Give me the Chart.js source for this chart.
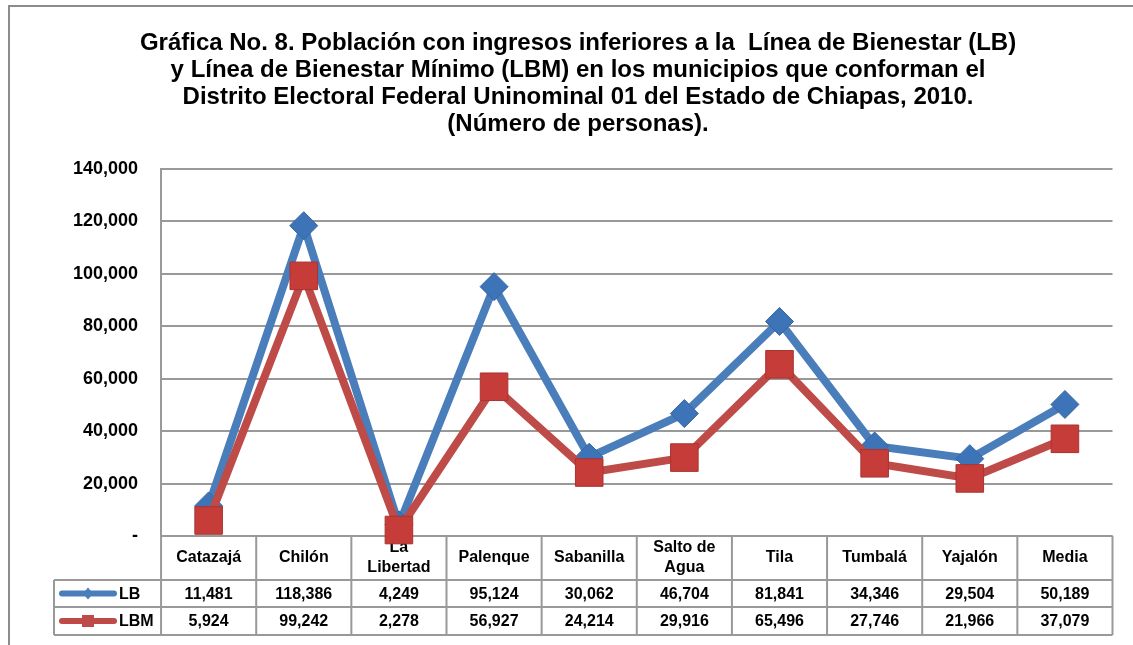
<!DOCTYPE html>
<html>
<head>
<meta charset="utf-8">
<script src="https://cdn.jsdelivr.net/npm/chart.js@4.4.1/dist/chart.umd.min.js"></script>
<style>
    html, body { margin: 0; padding: 0; background: #fff; }
    #wrap { width: 1133px; height: 645px; position: relative; }
</style>
</head>
<body>
<div id="wrap"><canvas id="chart"></canvas></div>
<script>
const titleLines = [
    'Gráfica No. 8. Población con ingresos inferiores a la  Línea de Bienestar (LB)',
    'y Línea de Bienestar Mínimo (LBM) en los municipios que conforman el',
    'Distrito Electoral Federal Uninominal 01 del Estado de Chiapas, 2010.',
    '(Número de personas).'
];
const categories = ['Catazajá', 'Chilón', ['La', 'Libertad'], 'Palenque', 'Sabanilla',
    ['Salto de', 'Agua'], 'Tila', 'Tumbalá', 'Yajalón', 'Media'];
const lbValues = [11481, 118386, 4249, 95124, 30062, 46704, 81841, 34346, 29504, 50189];
const lbmValues = [5924, 99242, 2278, 56927, 24214, 29916, 65496, 27746, 21966, 37079];
const yTicks = [0, 20000, 40000, 60000, 80000, 100000, 120000, 140000];

const FONT = '"Liberation Sans", Arial, sans-serif';
const GRID = '#999999';
const BLUE = '#4a7ebb';
const RED = '#be4b48';

function fmt(v) {
    return v.toLocaleString('en-US');
}

// title, frame and data table drawn around the plot
const tablePlugin = {
    id: 'tablePlugin',
    beforeDatasetsDraw(chart) {
        const ctx = chart.ctx;
        const area = chart.chartArea;
        const xs = chart.scales.x;
        const colW = (area.right - area.left) / categories.length;
        const rowHead = area.bottom + 44;
        const rowLb = rowHead + 27;
        const rowLbm = rowLb + 28;
        const legLeft = 54;

        ctx.save();
        ctx.strokeStyle = GRID;
        ctx.lineWidth = 2;
        ctx.beginPath();
        // horizontal lines
        ctx.moveTo(area.left, area.bottom); ctx.lineTo(area.right, area.bottom);
        ctx.moveTo(legLeft, rowHead); ctx.lineTo(area.right, rowHead);
        ctx.moveTo(legLeft, rowLb); ctx.lineTo(area.right, rowLb);
        ctx.moveTo(legLeft, rowLbm); ctx.lineTo(area.right, rowLbm);
        // vertical lines
        for (let i = 0; i <= categories.length; i++) {
            const x = area.left + i * colW;
            ctx.moveTo(x, area.bottom); ctx.lineTo(x, rowLbm);
        }
        ctx.moveTo(legLeft, rowHead); ctx.lineTo(legLeft, rowLbm);
        ctx.stroke();

        ctx.fillStyle = '#000';
        ctx.font = 'bold 16px ' + FONT;
        ctx.textAlign = 'center';
        ctx.textBaseline = 'middle';
        categories.forEach((c, i) => {
            const x = xs.getPixelForValue(i);
            const mid = (area.bottom + rowHead) / 2;
            if (Array.isArray(c)) {
                ctx.fillText(c[0], x, mid - 10);
                ctx.fillText(c[1], x, mid + 10);
            } else {
                ctx.fillText(c, x, mid);
            }
            ctx.fillText(fmt(lbValues[i]), x, (rowHead + rowLb) / 2 + 1);
            ctx.fillText(fmt(lbmValues[i]), x, (rowLb + rowLbm) / 2 + 1);
        });

        // legend keys
        const keys = [
            { label: 'LB', color: BLUE, y: (rowHead + rowLb) / 2, shape: 'diamond' },
            { label: 'LBM', color: RED, y: (rowLb + rowLbm) / 2, shape: 'square' }
        ];
        keys.forEach(k => {
            ctx.strokeStyle = k.color;
            ctx.lineWidth = 6;
            ctx.lineCap = 'round';
            ctx.beginPath();
            ctx.moveTo(62, k.y); ctx.lineTo(114, k.y);
            ctx.stroke();
            ctx.fillStyle = k.color;
            ctx.beginPath();
            if (k.shape === 'diamond') {
                ctx.moveTo(88, k.y - 6); ctx.lineTo(93, k.y); ctx.lineTo(88, k.y + 6); ctx.lineTo(83, k.y);
            } else {
                ctx.rect(82, k.y - 6, 12, 12);
            }
            ctx.fill();
            ctx.fillStyle = '#000';
            ctx.textAlign = 'left';
            ctx.fillText(k.label, 119, k.y + 1);
        });
        ctx.restore();
    },
    afterDraw(chart) {
        const ctx = chart.ctx;
        ctx.save();
        // outer frame
        ctx.strokeStyle = '#8c8c8c';
        ctx.lineWidth = 2;
        ctx.beginPath();
        ctx.moveTo(9, 645); ctx.lineTo(9, 6); ctx.lineTo(1133, 6);
        ctx.stroke();
        // title
        ctx.fillStyle = '#000';
        ctx.font = 'bold 24px ' + FONT;
        ctx.textAlign = 'center';
        ctx.textBaseline = 'middle';
        titleLines.forEach((t, i) => ctx.fillText(t, 578, 43 + i * 27));
        ctx.restore();
    }
};

const ctx = document.getElementById('chart').getContext('2d');
new Chart(ctx, {
    type: 'line',
    data: {
        labels: categories,
        datasets: [
            {
                label: 'LB',
                data: lbValues,
                borderColor: BLUE,
                backgroundColor: BLUE,
                borderWidth: 8,
                tension: 0,
                pointStyle: 'rectRot',
                pointRadius: 14,
                pointBackgroundColor: '#3d74b8',
                pointBorderColor: '#3565a3',
                pointBorderWidth: 1,
                clip: false,
                order: 1
            },
            {
                label: 'LBM',
                data: lbmValues,
                borderColor: RED,
                backgroundColor: RED,
                borderWidth: 8,
                tension: 0,
                pointStyle: 'rect',
                pointRadius: 19.5,
                pointBackgroundColor: '#c63c38',
                pointBorderColor: '#a83431',
                pointBorderWidth: 1,
                clip: false,
                order: 0
            }
        ]
    },
    options: {
        responsive: true,
        maintainAspectRatio: false,
        animation: false,
        layout: {
            padding: { left: 50, right: 20, top: 169, bottom: 109 }
        },
        scales: {
            x: {
                display: false,
                offset: true
            },
            y: {
                min: 0,
                max: 140000,
                afterBuildTicks: axis => {
                    axis.ticks = yTicks.map(v => ({ value: v }));
                },
                border: { display: true, color: GRID, width: 2 },
                grid: { color: GRID, lineWidth: 2, drawTicks: false },
                ticks: {
                    padding: 23,
                    color: '#000',
                    font: { family: FONT, size: 18, weight: 'bold' },
                    callback: v => v === 0 ? '-' : fmt(v)
                }
            }
        },
        plugins: {
            legend: { display: false },
            title: { display: false },
            tooltip: { enabled: false }
        }
    },
    plugins: [tablePlugin]
});
</script>
</body>
</html>
